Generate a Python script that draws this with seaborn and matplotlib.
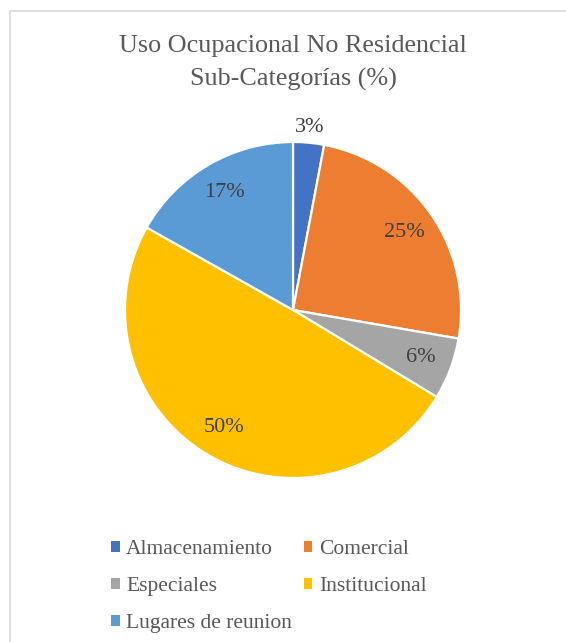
import matplotlib
matplotlib.use("Agg")
import matplotlib.pyplot as plt
from matplotlib.patches import Patch
from matplotlib.lines import Line2D
import numpy as np
import seaborn as sns

categories = ["Almacenamiento", "Comercial", "Especiales", "Institucional", "Lugares de reunion"]
values = [3, 25, 6, 50, 17]
colors = ["#4472C4", "#ED7D31", "#A5A5A5", "#FFC000", "#5B9BD5"]
title = "Uso Ocupacional No Residencial\nSub-Categorías (%)"

sns.set_theme(style="white")
plt.rcParams["font.family"] = ["Liberation Serif", "DejaVu Serif"]

W, H = 566, 642
fig = plt.figure(figsize=(W / 100, H / 100), dpi=100)
fig.patch.set_facecolor("white")

# pie centred at (293, 310) px with radius 168 px
cx, cy, R = 293, 310, 168
lim = 1.1
side = 2 * R * lim
ax = fig.add_axes([(cx - side / 2) / W, (H - cy - side / 2) / H, side / W, side / H])

wedges, _ = ax.pie(values, colors=colors, startangle=90, counterclock=False,
                   wedgeprops=dict(edgecolor="white", linewidth=1.6))
ax.set_xlim(-lim, lim)
ax.set_ylim(-lim, lim)
ax.set_aspect("equal")
ax.axis("off")

# percentage labels at each wedge's mid-angle
for w, v in zip(wedges, values):
    ang = np.deg2rad((w.theta1 + w.theta2) / 2)
    d = 1.09 if v < 5 else 0.81
    ax.text(d * np.cos(ang), d * np.sin(ang), f"{v}%", ha="center", va="center",
            fontsize=16, color="#404040")

fig.text(cx / W, 1 - 63 / H, title, ha="center", va="center",
         fontsize=18.8, color="#595959", linespacing=1.6)

# legend entries laid out row by row in two columns
handles = [Patch(facecolor=c, edgecolor="none") for c in colors]
order = [0, 2, 4, 1, 3]
leg = fig.legend([handles[i] for i in order], [categories[i] for i in order],
                 ncol=2, loc="upper left",
                 bbox_to_anchor=(111 / W, 1 - 540 / H), frameon=False,
                 borderaxespad=0, borderpad=0,
                 fontsize=15.5, handlelength=0.4, handleheight=0.4,
                 handletextpad=0.3, columnspacing=0.55, labelspacing=0.84,
                 labelcolor="#595959")

# chart area border (top and left edges)
fig.add_artist(Line2D([10 / W, 1], [1 - 11 / H, 1 - 11 / H], color="#d9d9d9", lw=1.2))
fig.add_artist(Line2D([10 / W, 10 / W], [0, 1 - 11 / H], color="#d9d9d9", lw=1.2))

fig.savefig("out.png", dpi=100, facecolor="white")
